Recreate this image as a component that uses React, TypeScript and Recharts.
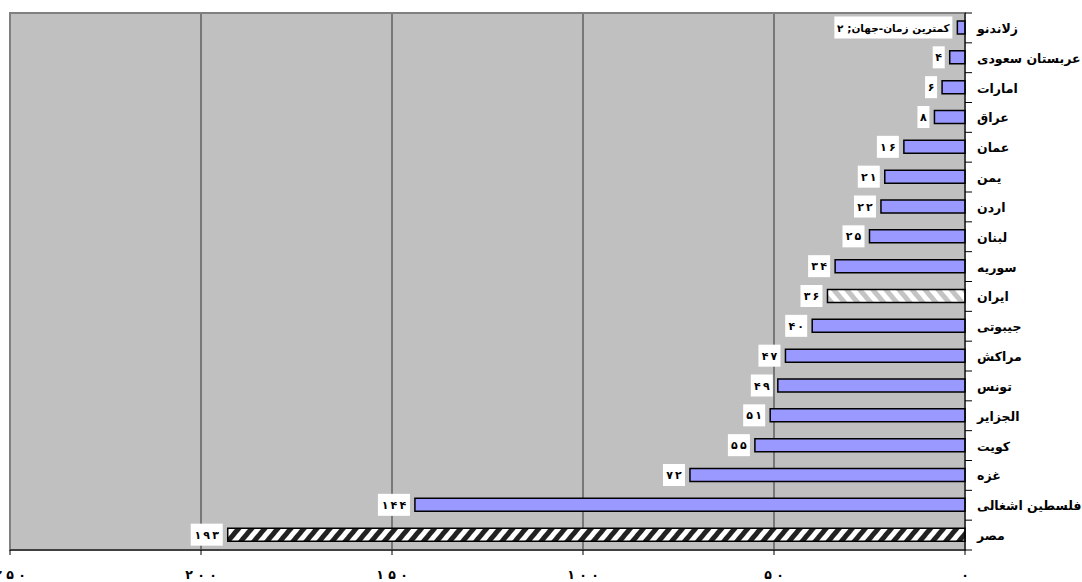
import React from "react";
import { BarChart, Bar, XAxis, YAxis, CartesianGrid, Cell, LabelList, ReferenceArea } from "recharts";

const countries = [
  "زلاندنو",
  "عربستان سعودی",
  "امارات",
  "عراق",
  "عمان",
  "یمن",
  "اردن",
  "لبنان",
  "سوریه",
  "ایران",
  "جیبوتی",
  "مراکش",
  "تونس",
  "الجزایر",
  "کویت",
  "غزه",
  "فلسطین اشغالی",
  "مصر",
];
const days = [2, 4, 6, 8, 16, 21, 22, 25, 34, 36, 40, 47, 49, 51, 55, 72, 144, 193];
const xTicks = [0, 50, 100, 150, 200, 250];
const firstLabelPrefix = "کمترین زمان-جهان; ";
const hatched: Record<string, string> = { "ایران": "url(#hatchLight)", "مصر": "url(#hatchDark)" };

const data = countries.map((name, i) => ({ name, value: days[i] }));

const W = 1082;
const H = 582;
const TOP = 13;
const LEFT = 10;
const Y_W = 117;
const X_H = 32;
const AXIS_X = W - Y_W;
const BAND = (H - TOP - X_H) / countries.length;
const FONT = "'DejaVu Sans', Arial, sans-serif";

// persian digits, spaced out a bit like the original
const toFa = (v: number | string, gap = "\u2009") =>
  String(v)
    .split("")
    .map((d) => "۰۱۲۳۴۵۶۷۸۹"[Number(d)])
    .join(gap);

function CategoryTick(props: any) {
  const { y, payload, index } = props;
  return (
    <g>
      <line x1={AXIS_X} x2={AXIS_X + 7} y1={y - BAND / 2} y2={y - BAND / 2} stroke="#000" />
      {index === countries.length - 1 && (
        <line x1={AXIS_X} x2={AXIS_X + 7} y1={y + BAND / 2} y2={y + BAND / 2} stroke="#000" />
      )}
      <text x={AXIS_X + 12} y={y + 5} textAnchor="start" fontFamily={FONT} fontWeight="bold" fontSize={12.5} fill="#000">
        {payload.value}
      </text>
    </g>
  );
}

function ValueTick(props: any) {
  const { x, payload } = props;
  const axisY = H - X_H;
  return (
    <g>
      <line x1={x} x2={x} y1={axisY} y2={axisY + 5} stroke="#000" />
      <text x={x} y={axisY + 29} textAnchor="middle" fontFamily={FONT} fontWeight="bold" fontSize={12.5} fill="#000">
        {toFa(payload.value, " ")}
      </text>
    </g>
  );
}

function ValueLabel(props: any) {
  const { x, y, width, height, value, index } = props;
  const left = Math.min(x, x + width);
  const first = index === 0;
  const text = first ? firstLabelPrefix + toFa(value) : toFa(value);
  const boxW = first ? 118 : String(value).length * 10 + 2;
  const cy = y + height / 2;
  return (
    <g>
      <rect x={left - 5 - boxW} y={cy - 11} width={boxW} height={22} fill="#fff" />
      <text
        x={left - 5 - boxW / 2}
        y={cy + 4}
        textAnchor="middle"
        fontFamily={FONT}
        fontWeight="bold"
        fontSize={first ? 10.5 : 11}
        fill="#000"
      >
        {text}
      </text>
    </g>
  );
}

export default function App() {
  return (
    <div style={{ position: "absolute", left: 0, top: 0, width: W, height: H, background: "#fff" }}>
      <svg width={0} height={0} style={{ position: "absolute" }}>
        <defs>
          <pattern id="hatchDark" patternUnits="userSpaceOnUse" width={10} height={10} patternTransform="rotate(40)">
            <rect width={10} height={10} fill="#fff" />
            <rect width={5} height={10} fill="#222" />
          </pattern>
          <pattern id="hatchLight" patternUnits="userSpaceOnUse" width={10} height={10} patternTransform="rotate(-40)">
            <rect width={10} height={10} fill="#fff" />
            <rect width={5} height={10} fill="#c4c4c4" />
          </pattern>
        </defs>
      </svg>
      <BarChart
        width={W}
        height={H}
        data={data}
        layout="vertical"
        margin={{ top: TOP, right: 0, left: LEFT, bottom: 0 }}
        barCategoryGap={0}
      >
        <CartesianGrid horizontal={false} vertical stroke="#303030" fill="#c0c0c0" fillOpacity={1} />
        <ReferenceArea x1={0} x2={250} fill="none" stroke="#808080" strokeWidth={2} />
        <XAxis
          type="number"
          reversed
          domain={[0, 250]}
          ticks={xTicks}
          interval={0}
          height={X_H}
          axisLine={{ stroke: "#000" }}
          tickLine={false}
          tick={<ValueTick />}
        />
        <YAxis
          type="category"
          dataKey="name"
          orientation="right"
          width={Y_W}
          interval={0}
          axisLine={{ stroke: "#000" }}
          tickLine={false}
          tick={<CategoryTick />}
        />
        <Bar dataKey="value" barSize={13} fill="#9999ff" stroke="#000" strokeWidth={1.5} isAnimationActive={false}>
          {data.map((d) => (
            <Cell key={d.name} fill={hatched[d.name] ?? "#9999ff"} />
          ))}
          <LabelList dataKey="value" content={<ValueLabel />} />
        </Bar>
      </BarChart>
    </div>
  );
}
